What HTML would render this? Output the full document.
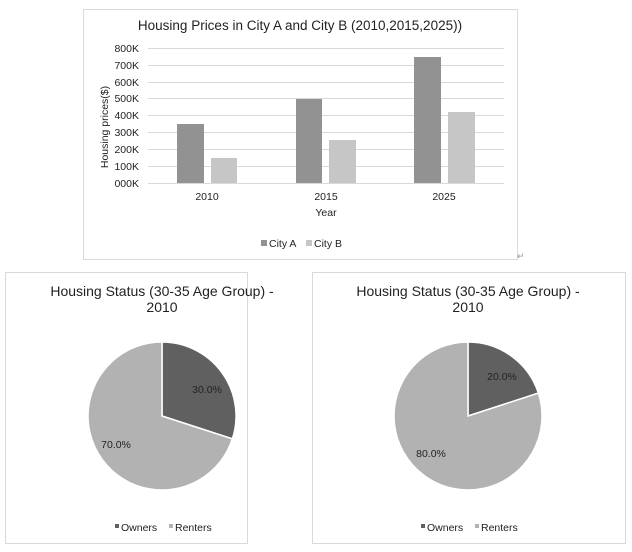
<!DOCTYPE html>
<html><head><style>body{margin:0;background:#fff}svg{display:block;font-family:"Liberation Sans",Arial,sans-serif}</style></head><body>
<svg width="632" height="552" viewBox="0 0 632 552">
<rect x="83.5" y="9.5" width="434" height="250" fill="#fff" stroke="#d9d9d9"/>
<text x="300" y="30" font-size="13.5" text-anchor="middle" fill="#222">Housing Prices in City A and City B (2010,2015,2025))</text>
<g stroke="#d9d9d9" stroke-width="1">
<line x1="148" x2="504" y1="48.5" y2="48.5"/><line x1="148" x2="504" y1="65.5" y2="65.5"/><line x1="148" x2="504" y1="82.5" y2="82.5"/><line x1="148" x2="504" y1="98.5" y2="98.5"/><line x1="148" x2="504" y1="115.5" y2="115.5"/><line x1="148" x2="504" y1="132.5" y2="132.5"/><line x1="148" x2="504" y1="149.5" y2="149.5"/><line x1="148" x2="504" y1="166.5" y2="166.5"/><line x1="148" x2="504" y1="183.5" y2="183.5"/>
</g>
<g font-size="10.5" text-anchor="end" fill="#222">
<text x="139" y="52">800K</text><text x="139" y="69">700K</text><text x="139" y="86">600K</text><text x="139" y="102">500K</text><text x="139" y="119">400K</text><text x="139" y="136">300K</text><text x="139" y="153">200K</text><text x="139" y="170">100K</text><text x="139" y="187">000K</text>
</g>
<g fill="#929292"><rect x="177" y="124" width="27" height="59"/><rect x="296" y="99" width="26" height="84"/><rect x="414" y="57" width="27" height="126"/></g>
<g fill="#c6c6c6"><rect x="211" y="158" width="26" height="25"/><rect x="329" y="140" width="27" height="43"/><rect x="448" y="112" width="27" height="71"/></g>
<g font-size="10.5" text-anchor="middle" fill="#222"><text x="207" y="200">2010</text><text x="326" y="200">2015</text><text x="444" y="200">2025</text><text x="326" y="216">Year</text></g>
<text transform="translate(108,127) rotate(-90)" font-size="10.5" text-anchor="middle" fill="#222">Housing  prices($)</text>
<rect x="261" y="240" width="6" height="6" fill="#929292"/><text x="269" y="247" font-size="10.5" fill="#222">City A</text>
<rect x="306" y="240" width="6" height="6" fill="#c6c6c6"/><text x="314" y="247" font-size="10.5" fill="#222">City B</text>
<text x="517" y="259" font-size="9" fill="#999">↵</text>

<rect x="5.5" y="272.5" width="242" height="271" fill="#fff" stroke="#d9d9d9"/>
<text x="162" y="296" font-size="14" text-anchor="middle" fill="#222">Housing Status (30-35 Age Group) -</text>
<text x="162" y="312" font-size="14" text-anchor="middle" fill="#222">2010</text>
<g stroke="#fff" stroke-width="1.5">
<path d="M162,416 L162,342 A74,74 0 0 1 232.4,438.9 Z" fill="#606060"/>
<path d="M162,416 L232.4,438.9 A74,74 0 1 1 162,342 Z" fill="#b2b2b2"/>
</g>
<text x="207" y="393" font-size="10.5" text-anchor="middle" fill="#222">30.0%</text>
<text x="116" y="448" font-size="10.5" text-anchor="middle" fill="#222">70.0%</text>
<rect x="115" y="524" width="4" height="4" fill="#606060"/><text x="121" y="531" font-size="10.5" fill="#222">Owners</text>
<rect x="169" y="524" width="4" height="4" fill="#b2b2b2"/><text x="175" y="531" font-size="10.5" fill="#222">Renters</text>

<rect x="312.5" y="272.5" width="313" height="271" fill="#fff" stroke="#d9d9d9"/>
<text x="468" y="296" font-size="14" text-anchor="middle" fill="#222">Housing Status (30-35 Age Group) -</text>
<text x="468" y="312" font-size="14" text-anchor="middle" fill="#222">2010</text>
<g stroke="#fff" stroke-width="1.5">
<path d="M468,416 L468,342 A74,74 0 0 1 538.4,393.1 Z" fill="#606060"/>
<path d="M468,416 L538.4,393.1 A74,74 0 1 1 468,342 Z" fill="#b2b2b2"/>
</g>
<text x="502" y="380" font-size="10.5" text-anchor="middle" fill="#222">20.0%</text>
<text x="431" y="457" font-size="10.5" text-anchor="middle" fill="#222">80.0%</text>
<rect x="421" y="524" width="4" height="4" fill="#606060"/><text x="427" y="531" font-size="10.5" fill="#222">Owners</text>
<rect x="475" y="524" width="4" height="4" fill="#b2b2b2"/><text x="481" y="531" font-size="10.5" fill="#222">Renters</text>
</svg>
</body></html>
